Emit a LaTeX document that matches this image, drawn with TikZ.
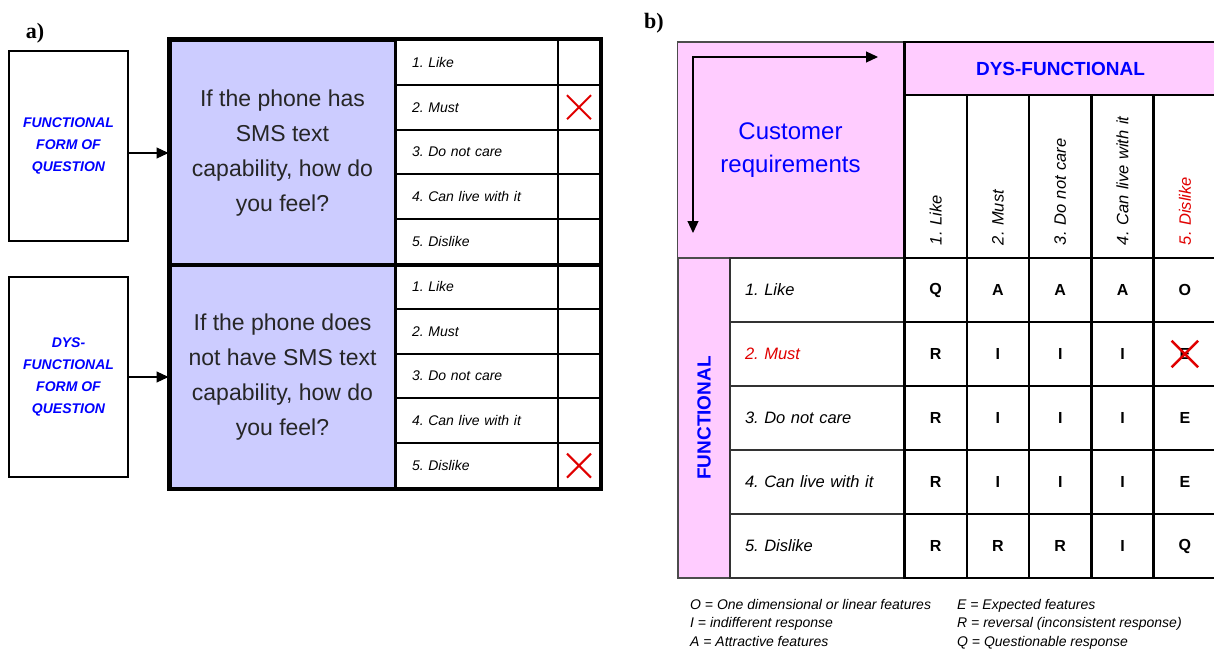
\documentclass[tikz,border=0pt]{standalone}
\usepackage{fontspec}
\setmainfont{Liberation Sans}
\newfontfamily\panelfont{Liberation Serif}
\usetikzlibrary{arrows.meta,shapes.misc}
\definecolor{qblue}{HTML}{CCCCFF}
\definecolor{kpink}{HTML}{FFCCFF}
\definecolor{kblue}{HTML}{0000FF}
\definecolor{kred}{HTML}{E00000}
\frenchspacing

\begin{document}
\begin{tikzpicture}[x=1pt,y=-1pt]
% Define styles
\tikzstyle{panel} = [font=\panelfont\bfseries\fontsize{22}{24}\selectfont]
\tikzstyle{formbox} = [rectangle, draw=black, line width=1.2pt, minimum width=119, text=kblue, font=\fontsize{14}{22}\selectfont\bfseries\itshape, align=center]
\tikzstyle{question} = [rectangle, fill=qblue, draw=black, line width=3pt, minimum width=225, minimum height=224, text=black!85, font=\fontsize{23}{35}\selectfont, align=center]
\tikzstyle{option} = [rectangle, draw=black, line width=2pt, minimum width=163, minimum height=44.8, text width=129, inner xsep=17, align=left, font=\fontsize{14}{16}\selectfont\itshape]
\tikzstyle{check} = [rectangle, draw=black, line width=2pt, minimum width=42, minimum height=44.8]
\tikzstyle{redcross} = [cross out, draw=kred, line width=2pt, minimum width=22, minimum height=22, inner sep=0pt]
\tikzstyle{pinkbox} = [rectangle, fill=kpink, draw=black!70, line width=1.5pt, align=center]
\tikzstyle{colhead} = [rectangle, draw=black, line width=2.6pt, minimum width=163, minimum height=62.3, text width=137, inner xsep=13, align=left, font=\fontsize{16.5}{18}\selectfont\itshape]
\tikzstyle{rowlabel} = [rectangle, draw=black!80, line width=1.8pt, minimum width=174, minimum height=64, text width=144, inner xsep=15, align=left, font=\fontsize{16.5}{18}\selectfont\itshape]
\tikzstyle{cell} = [rectangle, draw=black, line width=2.6pt, minimum width=62.3, minimum height=64, font=\fontsize{16}{18}\selectfont\bfseries]
\tikzstyle{legend} = [anchor=base west, inner sep=0pt, font=\fontsize{14}{16}\selectfont\itshape]
\tikzstyle{arrow} = [line width=1.2pt,->,>={Triangle[length=12pt,width=11pt]}]

\useasboundingbox (0,0) rectangle (1214,650);

% Panel a: the two forms of the question
\node (lbla) [panel] at (35,33) {a)};
\node (fq) [formbox, minimum height=190] at (68.5,146) {FUNCTIONAL\\FORM OF\\QUESTION};
\node (dq) [formbox, minimum height=200] at (68.5,377) {DYS-\\FUNCTIONAL\\FORM OF\\QUESTION};

\node (qtop) [question] at (282.5,153) {If the phone has\\SMS text\\capability, how do\\you feel?};
\node (qbot) [question] at (282.5,377) {If the phone does\\not have SMS text\\capability, how do\\you feel?};

\foreach \t [count=\i] in {1. Like,2. Must,3. Do not care,4. Can live with it,5. Dislike} {
  \node (ot\i) [option] at (476.5,17.6+44.8*\i) {\t};
  \node (ct\i) [check] at (579,17.6+44.8*\i) {};
  \node (ob\i) [option] at (476.5,241.6+44.8*\i) {\t};
  \node (cb\i) [check] at (579,241.6+44.8*\i) {};
}
\draw [line width=3.2pt] (ot1.north west -| qtop.west) rectangle (cb5.south east);
\draw [line width=3.2pt] (ct5.south east -| qtop.west) -- (ct5.south east);
\node (xt) [redcross] at (ct2) {};
\node (xb) [redcross] at (cb5) {};

\draw [arrow] (fq.east |- qtop.west) -- (qtop.west);
\draw [arrow] (dq.east |- qbot.west) -- (qbot.west);

% Panel b: evaluation table
\node (lblb) [panel] at (654,23) {b)};
\node (cr) [pinkbox, minimum width=226, minimum height=216, text=kblue, font=\fontsize{24}{33}\selectfont] at (790.5,150) {Customer\\requirements};
\node (dys) [pinkbox, draw=black, line width=2.6pt, minimum width=312, minimum height=53, text=kblue, font=\fontsize{19}{22}\selectfont\bfseries] at (1060.5,68.5) {DYS-FUNCTIONAL};
\node (fn) [pinkbox, rotate=90, minimum width=320, minimum height=52, text=kblue, font=\fontsize{19}{22}\selectfont\bfseries] at (704,418) {FUNCTIONAL};

\coordinate (arr) at (878,57);
\coordinate (ard) at (693,233);
\draw [arrow, <->] (arr) -| (ard);

\foreach \t/\c [count=\i] in {1. Like/black,2. Must/black,3. Do not care/black,4. Can live with it/black,5. Dislike/kred} {
  \node (h\i) [colhead, rotate=90, text=\c] at (873.35+62.3*\i,176.5) {\t};
}
\foreach \t/\c [count=\i] in {1. Like/black,2. Must/kred,3. Do not care/black,4. Can live with it/black,5. Dislike/black} {
  \node (r\i) [rowlabel, text=\c] at (817,226+64*\i) {\t};
}
\foreach \row [count=\i] in {{Q,A,A,A,O},{R,I,I,I,E},{R,I,I,I,E},{R,I,I,I,E},{R,R,R,I,Q}} {
  \foreach \v [count=\j] in \row {
    \node (c\i\j) [cell] at (873.35+62.3*\j,226+64*\i) {\v};
  }
}
\node (xe) [redcross, minimum width=24, minimum height=24, line width=2.5pt] at (c25) {};

% Key to the letters
\node (k1) [legend] at (690,609) {O = One dimensional or linear features};
\node (k2) [legend] at (690,627.5) {I = indifferent response};
\node (k3) [legend] at (690,646) {A = Attractive features};
\node (k4) [legend] at (957,609) {E = Expected features};
\node (k5) [legend] at (957,627.5) {R = reversal (inconsistent response)};
\node (k6) [legend] at (957,646) {Q = Questionable response};

\end{tikzpicture}
\end{document}
